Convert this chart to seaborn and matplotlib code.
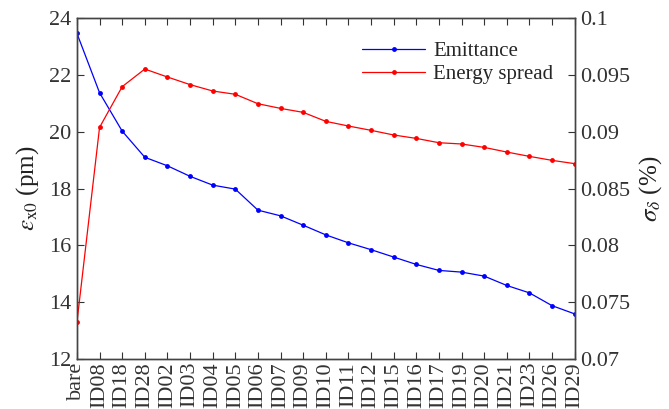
import pandas as pd
import matplotlib
matplotlib.use("Agg")
import matplotlib.pyplot as plt
import seaborn as sns

# ID configuration labels along the x axis
configs = ["bare", "ID08", "ID18", "ID28", "ID02", "ID03", "ID04", "ID05",
           "ID06", "ID07", "ID09", "ID10", "ID11", "ID12", "ID15", "ID16",
           "ID17", "ID19", "ID20", "ID21", "ID23", "ID26", "ID29"]

# horizontal emittance (pm)
emittance = [23.46, 21.37, 20.02, 19.10, 18.80, 18.43, 18.12, 17.98,
             17.24, 17.04, 16.71, 16.37, 16.09, 15.85, 15.59, 15.33,
             15.12, 15.06, 14.92, 14.59, 14.33, 13.88, 13.59]

# energy spread (%)
energy_spread = [0.07323, 0.09038, 0.09396, 0.09551, 0.09481, 0.09414, 0.09358, 0.09329,
                 0.09246, 0.09205, 0.09170, 0.09091, 0.09050, 0.09012, 0.08971, 0.08941,
                 0.08903, 0.08892, 0.08862, 0.08821, 0.08783, 0.08748, 0.08719]

df = pd.DataFrame({"pos": range(len(configs)), "config": configs,
                   "emit": emittance, "spread": energy_spread})

sns.set_style("ticks")
plt.rcParams['font.family'] = ['Liberation Serif', 'DejaVu Serif']
plt.rcParams['mathtext.fontset'] = 'stix'

fig = plt.figure(figsize=(6.69, 4.09), dpi=100)
ax = fig.add_axes([0.115, 0.122, 0.744, 0.834])
ax2 = ax.twinx()

sns.lineplot(data=df, x="pos", y="emit", ax=ax, color="blue", marker="o",
             markersize=3.5, markeredgewidth=0, linewidth=0.9, label="Emittance", legend=False)
sns.lineplot(data=df, x="pos", y="spread", ax=ax2, color="red", marker="o",
             markersize=3.5, markeredgewidth=0, linewidth=0.9, label="Energy spread", legend=False)

ax.set_xlim(0, len(configs) - 1)
ax.set_ylim(12, 24)
ax2.set_ylim(0.07, 0.1)
ax.set_yticks([12, 14, 16, 18, 20, 22, 24])
ax2.set_yticks([0.07, 0.075, 0.08, 0.085, 0.09, 0.095, 0.1])
ax2.set_yticklabels(["0.07", "0.075", "0.08", "0.085", "0.09", "0.095", "0.1"])
ax.set_xticks(df["pos"])
ax.set_xticklabels(configs, rotation=90)

ax.set_xlabel("")
ax.set_ylabel(r"$\epsilon_{\rm x0}$ (pm)", fontsize=18, labelpad=6, color="#222222")
ax2.set_ylabel(r"$\sigma_\delta$ (%)", fontsize=18, labelpad=5, color="#222222")

ax.tick_params(axis="both", direction="in", labelsize=16, length=5, colors="#333333",
               top=True, right=False)
ax.tick_params(axis="x", pad=2)
ax.tick_params(axis="y", pad=4)
ax2.tick_params(axis="y", direction="in", labelsize=16, length=5, colors="#333333", pad=4)
for a in (ax, ax2):
    for s in a.spines.values():
        s.set_color("#444444")
        s.set_linewidth(1.0)

h1, l1 = ax.get_legend_handles_labels()
h2, l2 = ax2.get_legend_handles_labels()
ax2.legend(h1 + h2, l1 + l2, loc="upper right", frameon=False, fontsize=15,
           bbox_to_anchor=(0.995, 0.985), handlelength=3.0, handletextpad=0.4,
           labelspacing=0.15)

fig.savefig("out.png", dpi=100)
